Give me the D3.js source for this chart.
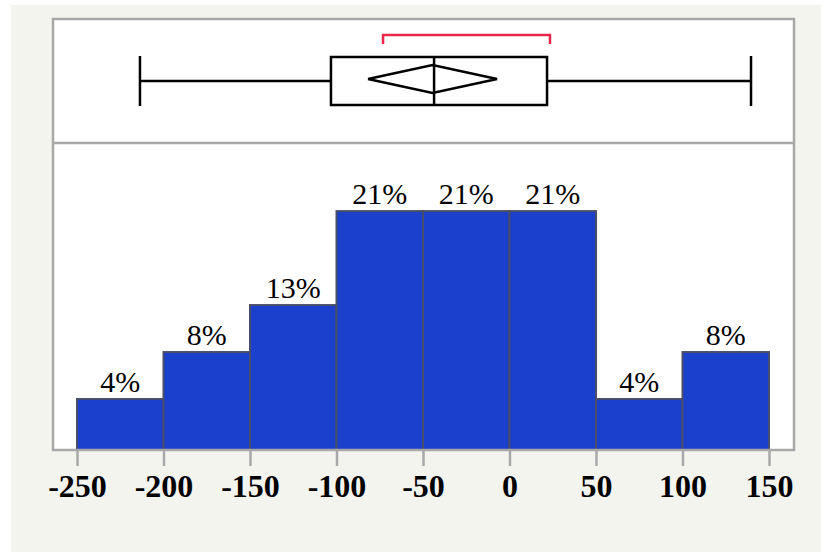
<!DOCTYPE html>
<html>
<head>
<meta charset="utf-8">
<script src="https://cdn.jsdelivr.net/npm/d3@7"></script>
<style>
  body { margin: 0; background: #fff; }
  svg { display: block; }
</style>
</head>
<body>
<div id="chart"></div>
<script>
// histogram bins and counts (labels are percentages of total)
const binEdges = [-250, -200, -150, -100, -50, 0, 50, 100, 150];
const counts = [1, 2, 3, 5, 5, 5, 1, 2];
const tickValues = [-250, -200, -150, -100, -50, 0, 50, 100, 150];

// outlier box plot summary
const whiskerLo = -213.6, whiskerHi = 139.6;
const q1 = -103.2, median = -43.6, q3 = 21.7;
const meanVal = -44.5, ciLo = -81.8, ciHi = -7.2;
const shortestHalf = [-73.1, 23.4];

const serif = "Liberation Serif";

function main() {
    const W = 821, H = 552;
    const frame = {left: 53, right: 794, top: 19, mid: 143, bottom: 450};

    const svg = d3.select("#chart").append("svg")
        .attr("width", W).attr("height", H);

    // grey page background
    svg.append("rect")
        .attr("x", 11).attr("y", 5)
        .attr("width", W - 11).attr("height", H - 5)
        .attr("fill", "#f4f4ef");

    // white panels
    svg.append("rect")
        .attr("x", frame.left).attr("y", frame.top)
        .attr("width", frame.right - frame.left)
        .attr("height", frame.bottom - frame.top)
        .attr("fill", "#fff");

    const x = d3.scaleLinear()
        .domain([-250, 150])
        .range([77, 769]);

    const y = d3.scaleLinear()
        .domain([0, 6.45])
        .range([446, frame.mid]);

    const total = d3.sum(counts);
    const bins = counts.map((c, i) => ({x0: binEdges[i], x1: binEdges[i + 1], c: c}));

    // bars
    svg.append("g").selectAll("rect")
        .data(bins)
        .join("rect")
        .attr("x", d => x(d.x0))
        .attr("y", d => y(d.c))
        .attr("width", d => x(d.x1) - x(d.x0))
        .attr("height", d => frame.bottom - y(d.c))
        .attr("fill", "#1a40cc")
        .attr("stroke", "#474d6a")
        .attr("stroke-width", 2);

    // percent labels
    svg.append("g").selectAll("text")
        .data(bins)
        .join("text")
        .attr("x", d => (x(d.x0) + x(d.x1)) / 2)
        .attr("y", d => y(d.c) - 7)
        .attr("text-anchor", "middle")
        .style("font-family", serif)
        .style("font-size", "30px")
        .attr("fill", "#000")
        .text(d => Math.round(d.c / total * 100) + "%");

    // panel borders
    const border = "#a8a8a8";
    svg.append("rect")
        .attr("x", frame.left).attr("y", frame.top)
        .attr("width", frame.right - frame.left)
        .attr("height", frame.bottom - frame.top)
        .attr("fill", "none")
        .attr("stroke", border)
        .attr("stroke-width", 2.5);
    svg.append("line")
        .attr("x1", frame.left).attr("x2", frame.right)
        .attr("y1", frame.mid).attr("y2", frame.mid)
        .attr("stroke", border)
        .attr("stroke-width", 2.5);

    // x axis
    const axis = svg.append("g")
        .attr("transform", `translate(0,${frame.bottom})`)
        .call(d3.axisBottom(x)
            .tickValues(tickValues)
            .tickFormat(d => String(d))
            .tickSize(16)
            .tickPadding(8));
    axis.select(".domain").remove();
    axis.selectAll(".tick line")
        .attr("stroke", border)
        .attr("stroke-width", 2.5);
    axis.selectAll(".tick text")
        .style("font-family", serif)
        .style("font-size", "32px")
        .style("font-weight", "bold")
        .attr("fill", "#000");

    // box plot
    const bp = svg.append("g")
        .attr("fill", "none")
        .attr("stroke", "#000")
        .attr("stroke-width", 2.5);
    const boxTop = 57, boxBot = 105, cy = (boxTop + boxBot) / 2;

    bp.append("line")
        .attr("x1", x(whiskerLo)).attr("x2", x(q1))
        .attr("y1", cy).attr("y2", cy);
    bp.append("line")
        .attr("x1", x(q3)).attr("x2", x(whiskerHi))
        .attr("y1", cy).attr("y2", cy);
    [whiskerLo, whiskerHi].forEach(v => {
        bp.append("line")
            .attr("x1", x(v)).attr("x2", x(v))
            .attr("y1", boxTop - 1).attr("y2", boxBot + 1);
    });
    bp.append("rect")
        .attr("x", x(q1)).attr("y", boxTop)
        .attr("width", x(q3) - x(q1))
        .attr("height", boxBot - boxTop);
    bp.append("line")
        .attr("x1", x(median)).attr("x2", x(median))
        .attr("y1", boxTop).attr("y2", boxBot);

    // means diamond
    bp.append("path")
        .attr("stroke-linejoin", "miter")
        .attr("d", d3.line()([
            [x(ciLo), cy - 2],
            [x(meanVal), cy - 16],
            [x(ciHi), cy - 2],
            [x(meanVal), cy + 12],
            [x(ciLo), cy - 2]
        ]));

    // shortest half bracket
    svg.append("path")
        .attr("fill", "none")
        .attr("stroke", "#e8264a")
        .attr("stroke-width", 2.5)
        .attr("d", d3.line()([
            [x(shortestHalf[0]), 44],
            [x(shortestHalf[0]), 35],
            [x(shortestHalf[1]), 35],
            [x(shortestHalf[1]), 44]
        ]));
}

main()
</script>
</body>
</html>
